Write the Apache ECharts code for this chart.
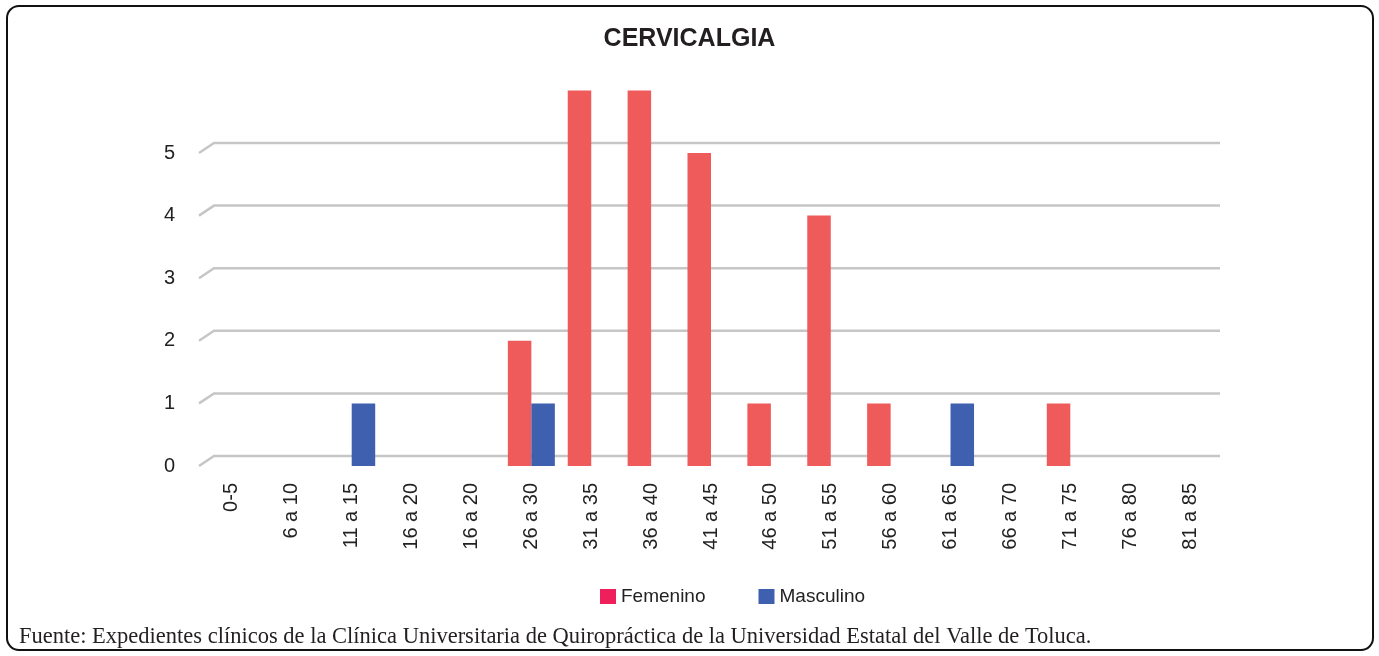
<!DOCTYPE html>
<html lang="es">
<head>
    <meta charset="UTF-8">
    <title>Cervicalgia</title>
    <script src="https://cdn.jsdelivr.net/npm/echarts@6/dist/echarts.min.js"></script>
    <style>
        html, body { margin: 0; padding: 0; background: #fff; }
        #app { width: 1379px; height: 656px; }
    </style>
</head>
<body>
    <div id="app"></div>
    <script>
        // datos
        const categorias = ['0-5', '6 a 10', '11 a 15', '16 a 20', '16 a 20', '26 a 30', '31 a 35', '36 a 40',
            '41 a 45', '46 a 50', '51 a 55', '56 a 60', '61 a 65', '66 a 70', '71 a 75', '76 a 80', '81 a 85'];
        const femenino  = [0, 0, 0, 0, 0, 2, 6, 6, 5, 1, 4, 1, 0, 0, 1, 0, 0];
        const masculino = [0, 0, 1, 0, 0, 1, 0, 0, 0, 0, 0, 0, 1, 0, 0, 0, 0];
        const ticksY = [0, 1, 2, 3, 4, 5];

        const fuente = 'Fuente: Expedientes clínicos de la Clínica Universitaria de Quiropráctica de la Universidad Estatal del Valle de Toluca.';

        var myChart = echarts.init(document.getElementById('app'));

        // líneas de división con el pequeño pliegue "3D" a la izquierda
        function renderGrid(params, api) {
            const cs = params.coordSys;
            const y = api.coord([0, api.value(1)])[1];
            return {
                type: 'polyline',
                shape: { points: [[cs.x - 3, y], [cs.x + 12, y - 10], [cs.x + cs.width, y - 10]] },
                style: { stroke: '#c6c6c6', lineWidth: 2.5, fill: null }
            };
        }

        var option = {
            animation: false,
            textStyle: { fontFamily: 'Liberation Sans, Arial, sans-serif' },
            title: {
                text: 'CERVICALGIA',
                left: 'center',
                top: 22,
                textStyle: { fontSize: 25, fontWeight: 'bold', color: '#231f20', fontFamily: 'Liberation Sans, Arial, sans-serif' }
            },
            legend: {
                left: 595,
                top: 582,
                itemWidth: 16,
                itemHeight: 15,
                itemGap: 53,
                icon: 'rect',
                textStyle: { fontSize: 19, color: '#222' },
                data: [
                    { name: 'Femenino', itemStyle: { color: '#ee1f5a' } },
                    { name: 'Masculino', itemStyle: { color: '#3f5faf' } }
                ]
            },
            grid: { left: 202, right: 159, top: 153, bottom: 190 },
            xAxis: {
                type: 'category',
                data: categorias,
                axisLine: { show: false },
                axisTick: { show: false },
                axisLabel: { rotate: 90, margin: 17, fontSize: 20, color: '#222', interval: 0 }
            },
            yAxis: {
                type: 'value',
                min: 0,
                max: 5,
                interval: 1,
                axisLine: { show: false },
                axisTick: { show: false },
                splitLine: { show: false },
                axisLabel: { margin: 27, fontSize: 20, color: '#222' }
            },
            series: [
                {
                    type: 'custom',
                    renderItem: renderGrid,
                    data: ticksY.map(v => [0, v]),
                    encode: { x: 0, y: 1 },
                    silent: true,
                    clip: false,
                    z: 1
                },
                {
                    name: 'Femenino',
                    type: 'bar',
                    data: femenino,
                    barWidth: 23.5,
                    barGap: 0,
                    clip: false,
                    z: 3,
                    itemStyle: { color: '#ef5a5a' }
                },
                {
                    name: 'Masculino',
                    type: 'bar',
                    data: masculino,
                    barWidth: 23.5,
                    barGap: 0,
                    clip: false,
                    z: 3,
                    itemStyle: { color: '#3f5faf' }
                }
            ],
            graphic: [
                {
                    type: 'rect',
                    shape: { x: 7, y: 6, width: 1366, height: 644, r: 12 },
                    style: { fill: null, stroke: '#111', lineWidth: 2 },
                    silent: true
                },
                {
                    type: 'text',
                    left: 19,
                    top: 626,
                    style: { text: fuente, font: '22.5px "Liberation Serif", "Times New Roman", serif', fill: '#231f20' },
                    silent: true
                }
            ]
        };

        myChart.setOption(option);
    </script>
</body>
</html>
